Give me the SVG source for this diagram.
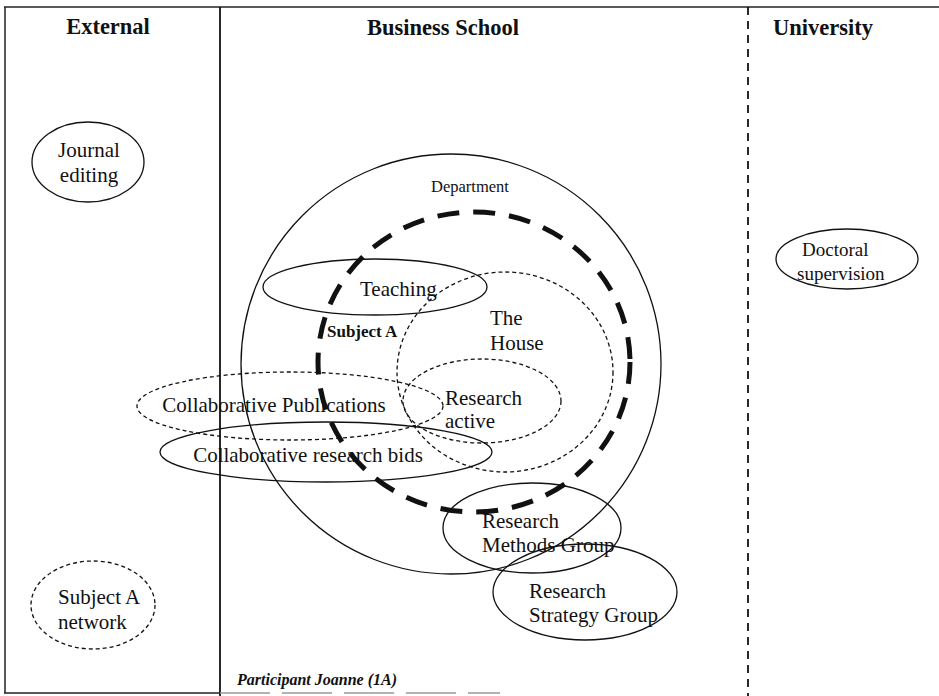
<svg xmlns="http://www.w3.org/2000/svg" width="939" height="696" viewBox="0 0 939 696">
<style>
text{font-family:"Liberation Serif","Times New Roman",serif;fill:#111}
.t{font-size:21px}
.h{font-size:22.5px;font-weight:bold;text-anchor:middle}
.s{fill:none;stroke:#111;stroke-width:1.3}
.d{fill:none;stroke:#111;stroke-width:1.3;stroke-dasharray:4 3}
.m{text-anchor:middle}
</style>
<rect width="939" height="696" fill="#fff"/>
<g id="frame">
<line x1="4" y1="7" x2="939" y2="7" stroke="#222" stroke-width="1.5"/>
<line x1="5" y1="7" x2="5" y2="693" stroke="#222" stroke-width="1.5"/>
<line x1="220" y1="7" x2="220" y2="696" stroke="#111" stroke-width="1.8"/>
<line x1="748" y1="7" x2="748" y2="696" stroke="#111" stroke-width="1.8" stroke-dasharray="8 6"/>
<line x1="4" y1="693" x2="220" y2="693" stroke="#222" stroke-width="1.5"/>
<line x1="220" y1="693" x2="500" y2="693" stroke="#999" stroke-width="1.5" stroke-dasharray="50 12"/>
<text class="h" x="108" y="34">External</text>
<text class="h" x="443" y="35">Business School</text>
<text class="h" x="823" y="35">University</text>
</g>
<g id="department">
<circle class="s" cx="451" cy="364" r="210"/>
<text x="470" y="192" font-size="16.5" class="m" fill="#222">Department</text>
</g>
<g id="subjectA">
<ellipse cx="474" cy="362" rx="156" ry="150" fill="none" stroke="#111" stroke-width="5" stroke-dasharray="22 14"/>
<text x="327" y="337" font-size="17" font-weight="bold">Subject A</text>
</g>
<g id="teaching">
<ellipse class="s" cx="375" cy="287" rx="112" ry="28"/>
<text class="t" x="360" y="296">Teaching</text>
</g>
<g id="house">
<ellipse class="d" cx="505" cy="372" rx="108" ry="100"/>
<text class="t" x="490" y="325">The</text>
<text class="t" x="490" y="350">House</text>
</g>
<g id="researchActive">
<ellipse class="d" cx="482" cy="401" rx="79" ry="42"/>
<text class="t" x="445" y="405">Research</text>
<text class="t" x="445" y="428">active</text>
</g>
<g id="collabPublications">
<ellipse class="d" cx="290" cy="406" rx="153" ry="34"/>
<text class="t m" x="274" y="412">Collaborative Publications</text>
</g>
<g id="collabBids">
<ellipse class="s" cx="326" cy="452" rx="166" ry="30"/>
<text class="t m" x="308" y="462">Collaborative research bids</text>
</g>
<g id="methodsGroup">
<ellipse class="s" cx="532" cy="528" rx="89" ry="45"/>
<text class="t" x="482" y="528">Research</text>
<text class="t" x="482" y="552">Methods Group</text>
</g>
<g id="strategyGroup">
<ellipse class="s" cx="585" cy="592" rx="92" ry="48"/>
<text class="t" x="529" y="598">Research</text>
<text class="t" x="529" y="622">Strategy Group</text>
</g>
<g id="journal">
<ellipse class="s" cx="88" cy="162" rx="56" ry="40"/>
<text class="t m" x="89" y="157">Journal</text>
<text class="t m" x="89" y="182">editing</text>
</g>
<g id="doctoral">
<ellipse class="s" cx="847" cy="259" rx="71" ry="30"/>
<text font-size="19" x="802" y="256">Doctoral</text>
<text font-size="19" x="797" y="280">supervision</text>
</g>
<g id="subjectANetwork">
<ellipse class="d" cx="93" cy="605" rx="62" ry="44"/>
<text class="t" x="58" y="604">Subject A</text>
<text class="t" x="58" y="629">network</text>
</g>
<g id="connectors"></g>
<text x="237" y="685" font-size="16" font-weight="bold" font-style="italic">Participant Joanne (1A)</text>
</svg>
